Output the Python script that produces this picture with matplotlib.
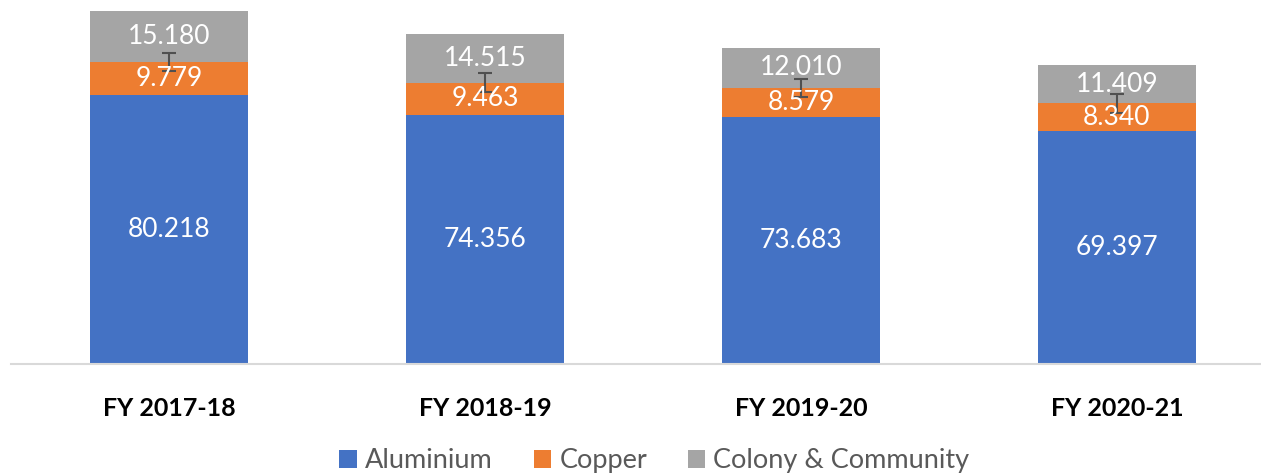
import matplotlib.pyplot as plt
import numpy as np

years = ['FY 2017-18', 'FY 2018-19', 'FY 2019-20', 'FY 2020-21']
aluminium = [80.218, 74.356, 73.683, 69.397]
copper = [9.779, 9.463, 8.579, 8.340]
colony = [15.180, 14.515, 12.010, 11.409]
copper_err = [2.8, 2.8, 2.8, 2.8]

plt.rcParams['font.family'] = ['Lato', 'DejaVu Sans']

fig = plt.figure(figsize=(12.61, 4.74), dpi=100)
ax = fig.add_axes([11 / 1261, 1 - 364 / 474, 1 - 11 / 1261, 364 / 474])

x = np.arange(len(years))
w = 0.497
alu = np.array(aluminium)
cu = np.array(copper)
col = np.array(colony)

b1 = ax.bar(x, alu, w, color='#4472C4', label='Aluminium', zorder=2)
b2 = ax.bar(x, cu, w, bottom=alu, color='#ED7D31', label='Copper', zorder=2)
b3 = ax.bar(x, col, w, bottom=alu + cu, color='#A5A5A5', label='Colony & Community', zorder=2)

ax.errorbar(x, alu + cu, yerr=copper_err, fmt='none', ecolor='#505050',
            elinewidth=1.5, capsize=5, capthick=1.5, zorder=3)

for i in range(len(years)):
    ax.text(x[i], alu[i] / 2, f'{aluminium[i]:.3f}', ha='center', va='center',
            color='white', fontsize=19, zorder=4)
    ax.text(x[i], alu[i] + cu[i] / 2, f'{copper[i]:.3f}', ha='center', va='center',
            color='white', fontsize=19, zorder=4)
    ax.text(x[i], alu[i] + cu[i] + col[i] / 2, f'{colony[i]:.3f}', ha='center', va='center',
            color='white', fontsize=19, zorder=4)

ax.set_xlim(-0.5, 3.5 - 14 / 316)
ax.set_ylim(0, 108.5)
ax.set_xticks(x)
ax.set_xticklabels(years, fontsize=18, fontweight='bold', color='black')
ax.tick_params(axis='x', length=0, pad=24)
ax.set_yticks([])
for s in ['top', 'right', 'left']:
    ax.spines[s].set_visible(False)
ax.spines['bottom'].set_color('#D9D9D9')
ax.spines['bottom'].set_linewidth(1.5)

fig.legend(handles=[b1, b2, b3], loc='lower center', bbox_to_anchor=(0.519, -0.05),
           ncol=3, frameon=False, fontsize=19.5, labelcolor='#595959',
           handlelength=0.65, handleheight=0.65, handletextpad=0.3, columnspacing=1.5)

plt.savefig('out.png', dpi=100)
